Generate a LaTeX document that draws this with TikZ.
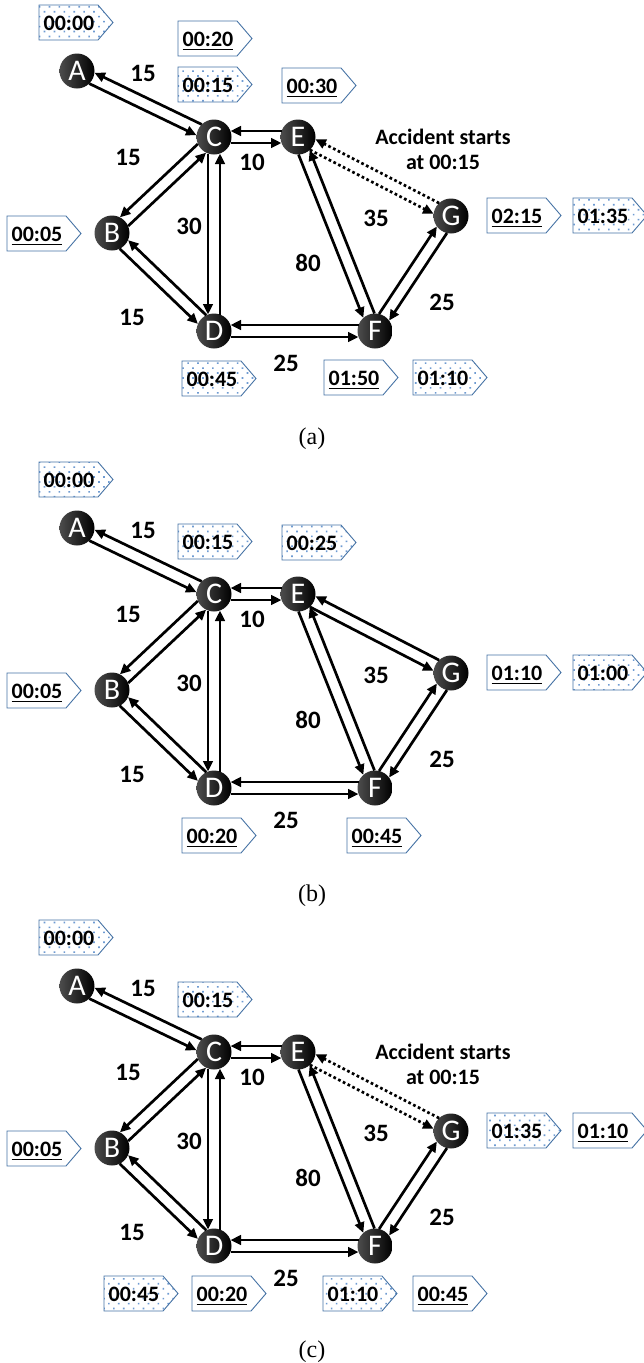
\documentclass[tikz,border=0pt]{standalone}
\usepackage{fontspec}
\setmainfont{Carlito}
\newfontfamily\capfont{Liberation Serif}
\usetikzlibrary{calc,arrows.meta,patterns.meta}

\definecolor{tagblue}{RGB}{70,115,165}
\definecolor{dotblue}{RGB}{110,155,210}

\tikzset{
  vertex/.style={circle, minimum size=35pt, inner sep=0pt, draw=none,
    left color=black!70, middle color=black, right color=black,
    text=white, font=\fontsize{30}{30}\selectfont},
  wlabel/.style={font=\bfseries\fontsize{25}{25}\selectfont, inner sep=0pt},
  edge/.style={line width=2.7pt, -{Triangle[length=10.5pt,width=9.5pt]},
    shorten >=16.5pt, shorten <=16.5pt},
  dotedge/.style={edge, dash pattern=on 2.7pt off 2.6pt},
  plaintag/.style={draw=tagblue, line width=0.9pt, fill=white},
  dottag/.style={draw=tagblue, line width=0.9pt,
    pattern={Dots[distance=7pt,radius=1.15pt,angle=45]}, pattern color=dotblue},
  tagtext/.style={font=\bfseries\fontsize{22}{22}\selectfont, inner sep=0pt, anchor=base},
  acctext/.style={font=\bfseries\fontsize{22}{25}\selectfont, align=center, inner sep=0pt},
  captext/.style={font=\capfont\fontsize{24}{24}\selectfont, inner sep=0pt},
}

% underlined text with a thicker rule
\newcommand\tagul[1]{\setbox0\hbox{#1}\rlap{\rule[-4pt]{\wd0}{1.4pt}}\box0}

% time tag: #1 name, #2 x left, #3 y top, #4 text, #5 style
\newcommand\timetag[5]{%
  \path[#5] (#2,#3) -- ++(59,0) -- ++(15,17.5) -- ++(-15,17.5) -- ++(-59,0) -- cycle;
  \node[tagtext] (#1) at (#2+30,#3+25) {#4};
}

% two opposite arrows between two nodes: #1 offset, #2 style, #3 X, #4 Y
\newcommand\twoway[4][6pt]{%
  \draw[#2] ($(#3)!#1!-90:(#4)$) -- ($(#4)!#1!90:(#3)$);
  \draw[#2] ($(#4)!#1!-90:(#3)$) -- ($(#3)!#1!90:(#4)$);
}

% the road network: #1 prefix, #2 vertical offset, #3 style of E-G
\newcommand\network[3]{%
\begin{scope}[shift={(0,#2)}]
  \node[vertex] (#1A) at (77,71) {A};
  \node[vertex] (#1B) at (112,233) {B};
  \node[vertex] (#1C) at (214,137) {C};
  \node[vertex] (#1D) at (214,331) {D};
  \node[vertex] (#1E) at (298,137) {E};
  \node[vertex] (#1F) at (375,331) {F};
  \node[vertex] (#1G) at (451,216) {G};
  \twoway{edge}{#1A}{#1C}
  \twoway{edge}{#1C}{#1B}
  \twoway{edge}{#1C}{#1D}
  \twoway{edge}{#1C}{#1E}
  \twoway{edge}{#1B}{#1D}
  \twoway{edge}{#1D}{#1F}
  \twoway{edge}{#1E}{#1F}
  \twoway[-6pt]{edge}{#1F}{#1G}
  \twoway{#3}{#1E}{#1G}
  \node[wlabel] (#1wAC) at (143,73) {15};
  \node[wlabel] (#1wCB) at (128,157) {15};
  \node[wlabel] (#1wCE) at (252,162) {10};
  \node[wlabel] (#1wCD) at (189,226) {30};
  \node[wlabel] (#1wEF) at (308,263) {80};
  \node[wlabel] (#1wEG) at (376,218) {35};
  \node[wlabel] (#1wBD) at (132,317) {15};
  \node[wlabel] (#1wFG) at (442,302) {25};
  \node[wlabel] (#1wDF) at (286,363) {25};
\end{scope}}

\begin{document}
\begin{tikzpicture}[x=1pt,y=-1pt]
\useasboundingbox (0,0) rectangle (644,1363);
\fill[white] (0,0) rectangle (644,1363);

% ---------------- panel (a)
\network{a}{0}{dotedge}
\node[acctext] (aacc) at (443,149) {Accident starts\\at 00:15};
\timetag{ta1}{39}{5}{00:00}{dottag}
\timetag{ta2}{178}{21}{\tagul{00:20}}{plaintag}
\timetag{ta3}{178}{67}{00:15}{dottag}
\timetag{ta4}{282}{68}{\tagul{00:30}}{plaintag}
\timetag{ta5}{7}{216}{\tagul{00:05}}{plaintag}
\timetag{ta6}{487}{198}{\tagul{02:15}}{plaintag}
\timetag{ta7}{573}{198}{01:35}{dottag}
\timetag{ta8}{182}{361}{00:45}{dottag}
\timetag{ta9}{324}{360}{\tagul{01:50}}{plaintag}
\timetag{ta10}{413}{360}{01:10}{dottag}
\node[captext] (capa) at (312,439) {(a)};

% ---------------- panel (b)
\network{b}{457}{edge}
\timetag{tb1}{39}{462}{00:00}{dottag}
\timetag{tb2}{178}{524}{00:15}{dottag}
\timetag{tb3}{282}{525}{00:25}{dottag}
\timetag{tb4}{7}{673}{\tagul{00:05}}{plaintag}
\timetag{tb5}{487}{655}{\tagul{01:10}}{plaintag}
\timetag{tb6}{573}{655}{01:00}{dottag}
\timetag{tb7}{182}{818}{\tagul{00:20}}{plaintag}
\timetag{tb8}{347}{818}{\tagul{00:45}}{plaintag}
\node[captext] (capb) at (312,896) {(b)};

% ---------------- panel (c)
\network{c}{915}{dotedge}
\node[acctext] (cacc) at (443,1064) {Accident starts\\at 00:15};
\timetag{tc1}{39}{920}{00:00}{dottag}
\timetag{tc2}{178}{982}{00:15}{dottag}
\timetag{tc3}{7}{1131}{\tagul{00:05}}{plaintag}
\timetag{tc4}{487}{1113}{01:35}{dottag}
\timetag{tc5}{573}{1113}{\tagul{01:10}}{plaintag}
\timetag{tc6}{104}{1276}{00:45}{dottag}
\timetag{tc7}{192}{1276}{\tagul{00:20}}{plaintag}
\timetag{tc8}{323}{1276}{01:10}{dottag}
\timetag{tc9}{413}{1276}{\tagul{00:45}}{plaintag}
\node[captext] (capc) at (312,1352) {(c)};
\end{tikzpicture}
\end{document}
